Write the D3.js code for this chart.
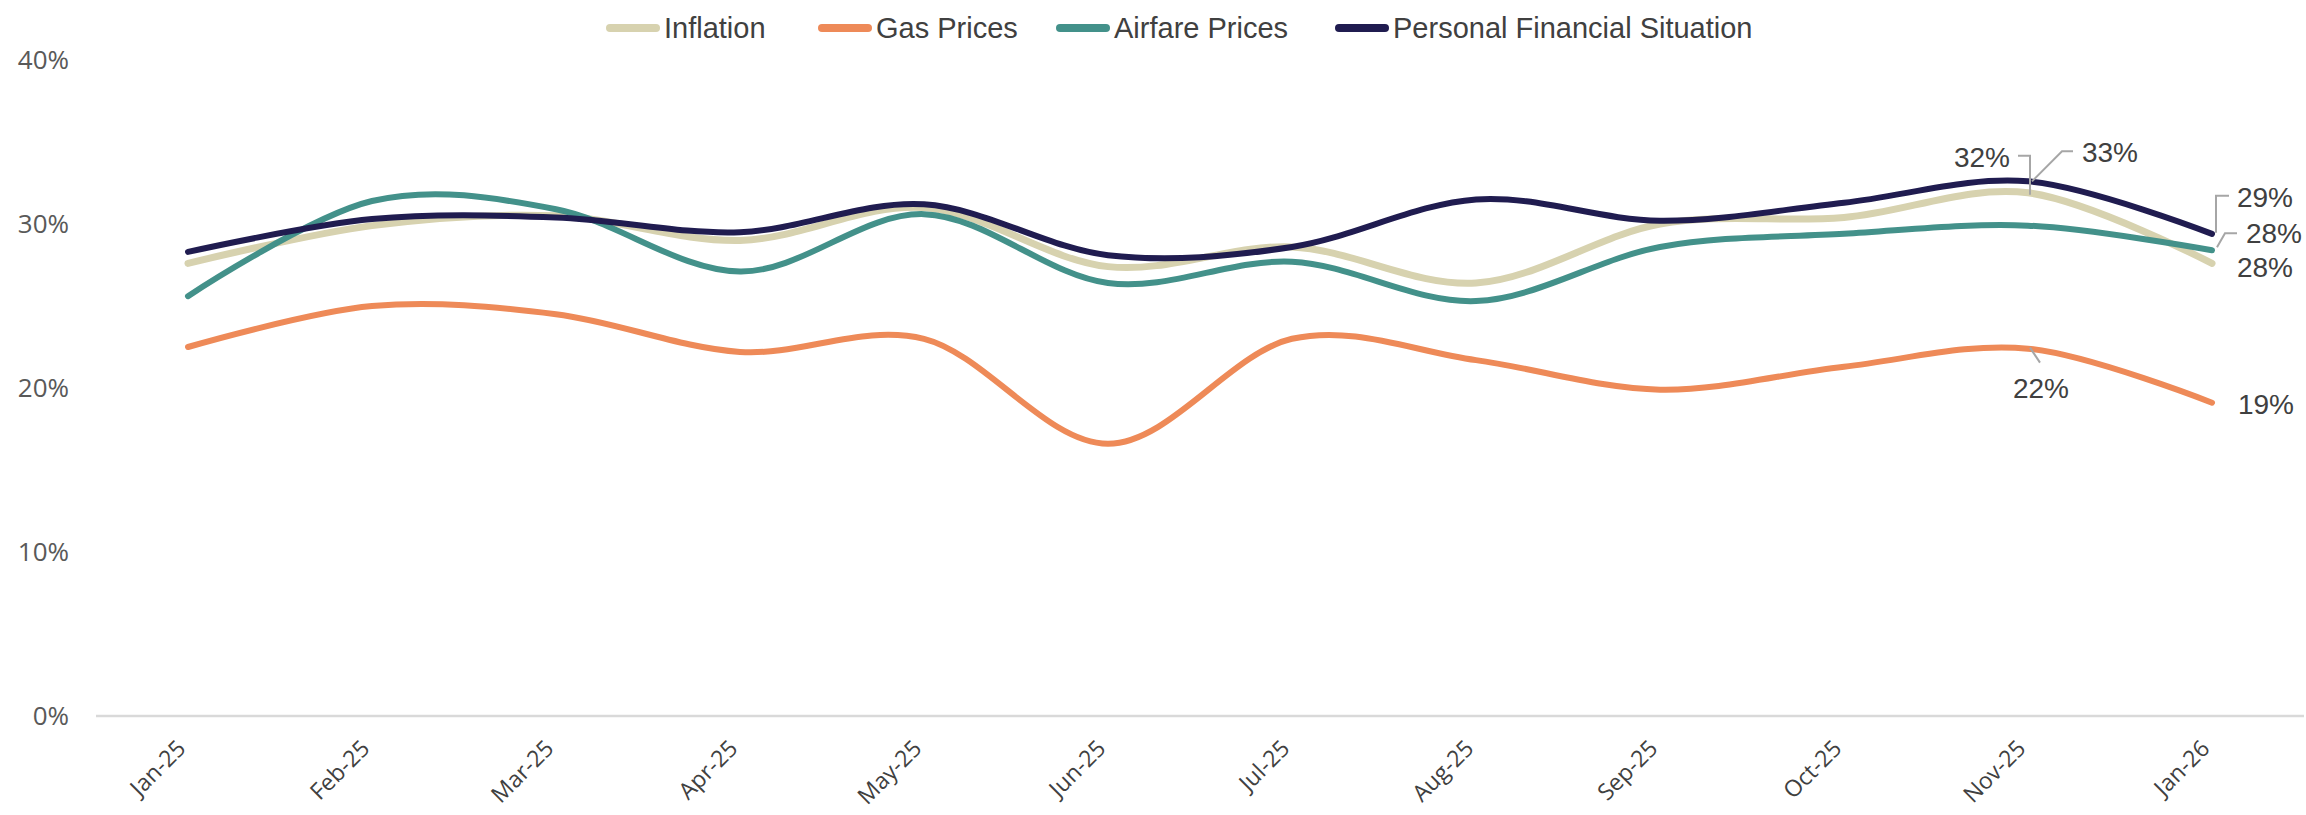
<!DOCTYPE html>
<html>
<head>
<meta charset="utf-8">
<script src="https://cdn.jsdelivr.net/npm/d3@7"></script>
<style>
  html, body { margin: 0; padding: 0; background: #fff; }
  svg { display: block; }
</style>
</head>
<body>
<script>
var width = 2306;
var height = 815;

// chart data (percent)
var months = ["Jan-25", "Feb-25", "Mar-25", "Apr-25", "May-25", "Jun-25",
  "Jul-25", "Aug-25", "Sep-25", "Oct-25", "Nov-25", "Jan-26"];
var inflation = [27.6, 29.9, 30.5, 29.0, 31.0, 27.4, 28.6, 26.4, 30.0, 30.4, 31.9, 27.6];
var gasPrices = [22.5, 25.0, 24.5, 22.2, 23.0, 16.6, 23.0, 21.7, 19.9, 21.3, 22.4, 19.1];
var airfare = [25.6, 31.4, 30.9, 27.1, 30.6, 26.4, 27.7, 25.3, 28.6, 29.4, 29.9, 28.4];
var personal = [28.3, 30.3, 30.4, 29.5, 31.2, 28.1, 28.6, 31.5, 30.2, 31.3, 32.6, 29.4];
var yTicks = [0, 10, 20, 30, 40];

var series = [
  { name: "Inflation", values: inflation, color: "#D7D2AF", w: 7 },
  { name: "Gas Prices", values: gasPrices, color: "#EE8A58", w: 6 },
  { name: "Airfare Prices", values: airfare, color: "#43918A", w: 6 },
  { name: "Personal Financial Situation", values: personal, color: "#201C50", w: 6 }
];

// which points get a data label, with placement of text + leader
var labels = [
  { s: 0, i: 10, dx: -46, dy: -36, leader: [[2, 2], [2, -37], [-10, -37]] },
  { s: 3, i: 10, dx: 82, dy: -29, leader: [[4, 0], [34, -30], [45, -30]] },
  { s: 3, i: 11, dx: 53, dy: -37, leader: [[4, -1], [4, -38], [17, -38]] },
  { s: 2, i: 11, dx: 62, dy: -17, leader: [[5, -3], [13, -17], [25, -17]] },
  { s: 0, i: 11, dx: 53, dy: 4 },
  { s: 1, i: 10, dx: 13, dy: 39, leader: [[2, -1], [12, 14]] },
  { s: 1, i: 11, dx: 54, dy: 1 }
];

var svg = d3.select("body").append("svg")
  .attr("width", width)
  .attr("height", height);

svg.append("rect").attr("width", width).attr("height", height).attr("fill", "#fff");

var x = d3.scalePoint().domain(months).range([96, 2304]).padding(0.5);
var y = d3.scaleLinear().domain([0, 40]).range([716, 60]);

// y axis labels
svg.append("g").selectAll("text")
  .data(yTicks)
  .enter()
  .append("text")
  .attr("x", 69)
  .attr("y", function (d) { return y(d); })
  .attr("dy", "0.36em")
  .attr("text-anchor", "end")
  .attr("font-family", "'Open Sans', sans-serif")
  .attr("font-size", 26)
  .attr("fill", "#595959")
  .text(function (d) { return d + "%"; });

// baseline
svg.append("line")
  .attr("x1", 96).attr("x2", 2304)
  .attr("y1", y(0)).attr("y2", y(0))
  .attr("stroke", "#D9D9D9")
  .attr("stroke-width", 2.5);

// x labels
svg.append("g").selectAll("text")
  .data(months)
  .enter()
  .append("text")
  .attr("transform", function (d) {
    return "translate(" + (x(d) - 1) + "," + 750 + ") rotate(-45)";
  })
  .attr("text-anchor", "end")
  .attr("font-family", "'Open Sans', sans-serif")
  .attr("font-size", 23)
  .attr("fill", "#404040")
  .text(function (d) { return d; });

var line = d3.line()
  .x(function (d, i) { return x(months[i]); })
  .y(function (d) { return y(d); })
  .curve(d3.curveCardinal.tension(0));

svg.append("g").selectAll("path")
  .data(series)
  .enter()
  .append("path")
  .attr("d", function (d) { return line(d.values); })
  .attr("fill", "none")
  .attr("stroke", function (d) { return d.color; })
  .attr("stroke-width", function (d) { return d.w; })
  .attr("stroke-linecap", "round")
  .attr("stroke-linejoin", "round");

// data labels
var lab = svg.append("g");
labels.forEach(function (l) {
  var v = series[l.s].values[l.i];
  var px = x(months[l.i]);
  var py = y(v);
  if (l.leader) {
    lab.append("path")
      .attr("d", d3.line()(l.leader.map(function (p) { return [px + p[0], py + p[1]]; })))
      .attr("fill", "none")
      .attr("stroke", "#A6A6A6")
      .attr("stroke-width", 2);
  }
  lab.append("text")
    .attr("x", px + l.dx)
    .attr("y", py + l.dy)
    .attr("dy", "0.36em")
    .attr("text-anchor", "middle")
    .attr("font-family", "'Liberation Sans', Arial, sans-serif")
    .attr("font-size", 28)
    .attr("fill", "#404040")
    .text(Math.round(v) + "%");
});

// legend
var legendX = [606, 818, 1056, 1335];
var legend = svg.append("g").selectAll("g")
  .data(series)
  .enter()
  .append("g")
  .attr("transform", function (d, i) { return "translate(" + legendX[i] + ",28)"; });

legend.append("line")
  .attr("x1", 4).attr("x2", 50)
  .attr("stroke", function (d) { return d.color; })
  .attr("stroke-width", 8)
  .attr("stroke-linecap", "round");

legend.append("text")
  .attr("x", 58)
  .attr("dy", "0.36em")
  .attr("font-family", "'Liberation Sans', Arial, sans-serif")
  .attr("font-size", 29)
  .attr("fill", "#404040")
  .text(function (d) { return d.name; });
</script>
</body>
</html>
